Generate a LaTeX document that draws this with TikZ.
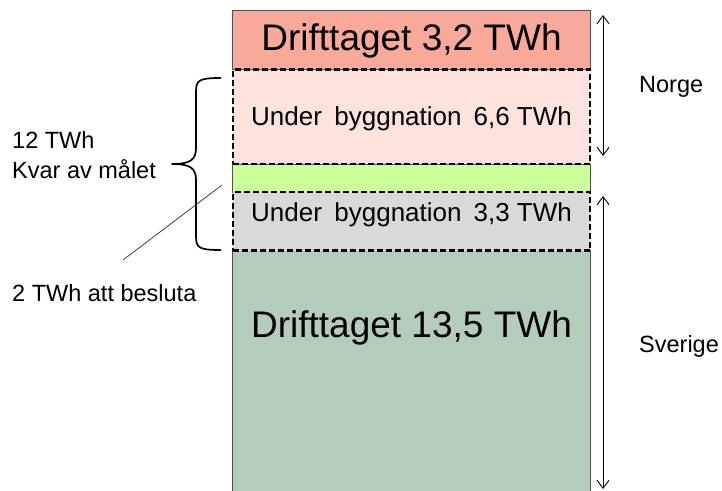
\documentclass[tikz,border=0pt]{standalone}
\usepackage{fontspec}
\setmainfont{Liberation Sans}
\usetikzlibrary{arrows.meta}
\definecolor{topred}{RGB}{249,169,153}
\definecolor{palepink}{RGB}{253,226,222}
\definecolor{lime}{RGB}{204,255,153}
\definecolor{lgray}{RGB}{217,217,217}
\definecolor{sage}{RGB}{180,205,186}
\definecolor{edge}{RGB}{80,80,80}
\tikzset{
  block/.style={rectangle, inner sep=0pt, minimum width=358pt, draw=edge, line width=0.9pt},
  dashblock/.style={rectangle, inner sep=0pt, minimum width=357pt, draw=black, line width=2.2pt, dash pattern=on 6pt off 3pt},
  bigtext/.style={font=\fontsize{37}{40}\selectfont, inner sep=0pt},
  midtext/.style={font=\fontsize{26}{28}\selectfont, inner sep=0pt},
  label/.style={font=\fontsize{23.5}{30}\selectfont, inner sep=0pt, align=left},
  dim/.style={line width=0.9pt, {Straight Barb[length=8pt,width=12pt]}-{Straight Barb[length=8pt,width=12pt]}},
}
\begin{document}
\begin{tikzpicture}[x=1pt,y=-1pt]
\useasboundingbox (0,0) rectangle (722,490);
% blocks
\node[block, fill=sage, minimum height=250pt] (big) at (411.5,375.5) {};
\node[block, fill=topred, minimum height=59.5pt] (top) at (411.5,39.75) {};
\node[block, fill=lime, minimum height=28pt] (green) at (411.5,178) {};
\node[dashblock, fill=palepink, minimum height=94.5pt] (nor) at (411.5,116.75) {};
\node[dashblock, fill=lgray, minimum height=58.5pt] (swe) at (411.5,221.25) {};
% texts
\node[bigtext] (t1) at (411.5,41) {Drifttaget 3,2 TWh};
\node[midtext] (t2) at (411.5,119) {Under\hspace{12.5pt}byggnation\hspace{12pt}6,6 TWh};
\node[midtext] (t3) at (411.5,215) {Under\hspace{12.5pt}byggnation\hspace{12pt}3,3 TWh};
\node[bigtext] (t4) at (411.5,328) {Drifttaget 13,5 TWh};
% dimension arrows
\coordinate (n1) at (603,15);
\coordinate (n2) at (603,156);
\coordinate (s1) at (603,196);
\coordinate (s2) at (603,489);
\draw[dim] (n1) -- (n2);
\draw[dim] (s1) -- (s2);
\node[label, anchor=west] (norge) at (639,87) {Norge};
\node[label, anchor=west] (sverige) at (639,346) {Sverige};
% brace
\draw[line width=1.7pt, line join=round]
  (221,78) .. controls (199,78) and (196,80) .. (196,92) -- (196,148)
  .. controls (196,160) and (190,164) .. (172,164)
  .. controls (190,164) and (196,168) .. (196,180) -- (196,236)
  .. controls (196,248) and (199,250) .. (221,250);
\node[label, anchor=west] (kvar) at (12,155) {12 TWh\\Kvar av målet};
\node[label, anchor=west] (besluta) at (12,293) {2 TWh att besluta};
\coordinate (lineend) at (123,260);
\coordinate (linestart) at (222,185);
\draw[line width=0.8pt, black!75] (lineend) -- (linestart);
\end{tikzpicture}
\end{document}
